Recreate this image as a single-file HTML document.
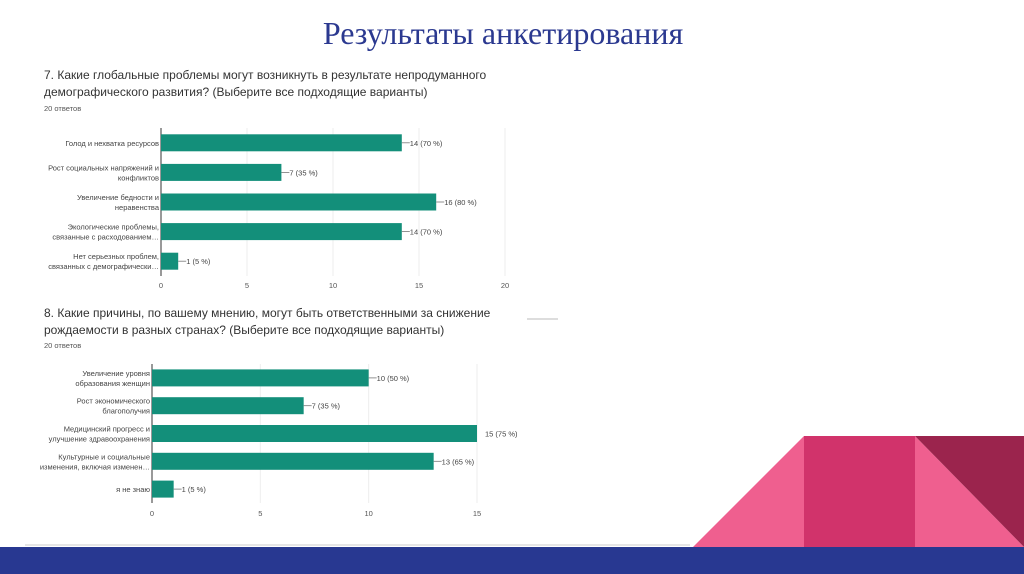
<!DOCTYPE html>
<html><head><meta charset="utf-8"><style>
html,body{margin:0;padding:0;background:#fff;}
#root{position:relative;width:1024px;height:574px;overflow:hidden;background:#fff;}
svg text{font-family:"Liberation Sans","Noto Sans CJK SC",sans-serif;}
</style></head><body>
<div id="root">
<svg id="svg" width="1024" height="574" viewBox="0 0 1024 574" xmlns="http://www.w3.org/2000/svg">
<text x="503" y="44" text-anchor="middle" style="font-family:'Liberation Serif','Noto Serif CJK SC',serif;font-size:32px;fill:#2b3990">Результаты анкетирования</text>

<text x="44" y="79" style="font-size:12px;fill:#333">7. Какие глобальные проблемы могут возникнуть в результате непродуманного</text>
<text x="44" y="96" style="font-size:12px;fill:#333">демографического развития? (Выберите все подходящие варианты)</text>
<text x="44" y="111" style="font-size:7.5px;fill:#555">20 ответов</text>

<text x="44" y="317" style="font-size:12px;fill:#333">8. Какие причины, по вашему мнению, могут быть ответственными за снижение</text>
<text x="44" y="334" style="font-size:12px;fill:#333">рождаемости в разных странах? (Выберите все подходящие варианты)</text>
<text x="44" y="348" style="font-size:7.5px;fill:#555">20 ответов</text>
<line x1="527" y1="319" x2="558" y2="319" stroke="#bbb" stroke-width="1"/>

<g id="chart1"></g>
<g id="chart2"></g>

<line x1="25" y1="545" x2="690" y2="545" stroke="#ccc" stroke-width="1"/>
<polygon points="693,547 804,436 804,547" fill="#ef5f8f"/>
<rect x="804" y="436" width="111" height="111" fill="#d1336b"/>
<polygon points="915,436 1024,547 915,547" fill="#ef5f8f"/>
<polygon points="915,436 1024,436 1024,547" fill="#9b244d"/>
<rect x="0" y="547" width="1024" height="27" fill="#283891"/>
</svg>
</div>
<script>
const c1Categories=[["Голод и нехватка ресурсов"],["Рост социальных напряжений и","конфликтов"],["Увеличение бедности и","неравенства"],["Экологические проблемы,","связанные с расходованием…"],["Нет серьезных проблем,","связанных с демографически…"]];
const c1Values=[14,7,16,14,1];
const c1Labels=["14 (70 %)","7 (35 %)","16 (80 %)","14 (70 %)","1 (5 %)"];
const c1Ticks=[0,5,10,15,20];
const c2Categories=[["Увеличение уровня","образования женщин"],["Рост экономического","благополучия"],["Медицинский прогресс и","улучшение здравоохранения"],["Культурные и социальные","изменения, включая изменен…"],["я не знаю"]];
const c2Values=[10,7,15,13,1];
const c2Labels=["10 (50 %)","7 (35 %)","15 (75 %)","13 (65 %)","1 (5 %)"];
const c2Ticks=[0,5,10,15];

const NS="http://www.w3.org/2000/svg";
function mk(parent,tag,attrs,text){const e=document.createElementNS(NS,tag);for(const k in attrs)e.setAttribute(k,attrs[k]);if(text!==undefined)e.textContent=text;parent.appendChild(e);return e;}

function draw(gid,cats,vals,labels,ticks,x0,x1,top,bottom,barH,tickY){
  const g=document.getElementById(gid);
  const max=ticks[ticks.length-1];
  const xs=v=>x0+(x1-x0)*v/max;
  const band=(bottom-top)/cats.length;
  const ys=i=>top+band*(i+0.5);
  ticks.forEach(t=>{
    const l=mk(g,'line',{x1:xs(t),x2:xs(t),y1:top,y2:bottom,stroke:t===0?'#333':'#eee','stroke-width':1});
    
    
    const tx=mk(g,'text',{x:xs(t),y:tickY,'text-anchor':'middle','font-size':'7.5','fill':'#555'},String(t));
    
    
  });
  cats.forEach((c,i)=>{
    const y=ys(i);
    const r=mk(g,'rect',{x:xs(0),y:y-barH/2,width:xs(vals[i])-xs(0),height:barH,fill:'#138f7a'});
    
    
    const n=c.length;
    c.forEach((ln,j)=>{
      const t=mk(g,'text',{x:xs(0)-2,y:y+3+(j-(n-1)/2)*10,'text-anchor':'end','font-size':'7.5','fill':'#444'},ln);
      
      
    });
    const ex=xs(vals[i]);
    if(vals[i]>=max){
      const t=mk(g,'text',{x:ex+8,y:y+3,'font-size':'7.5','fill':'#444'},labels[i]);
      
      
    }else{
      const l=mk(g,'line',{x1:ex,x2:ex+8,y1:y,y2:y,stroke:'#777','stroke-width':0.8});
      
      
      const t=mk(g,'text',{x:ex+8,y:y+3,'font-size':'7.5','fill':'#444'},labels[i]);
      
      
    }
  });
}
draw('chart1',c1Categories,c1Values,c1Labels,c1Ticks,161,505,128,276,17,288);
draw('chart2',c2Categories,c2Values,c2Labels,c2Ticks,152,477,364,503,17,516);
</script>
</body></html>
